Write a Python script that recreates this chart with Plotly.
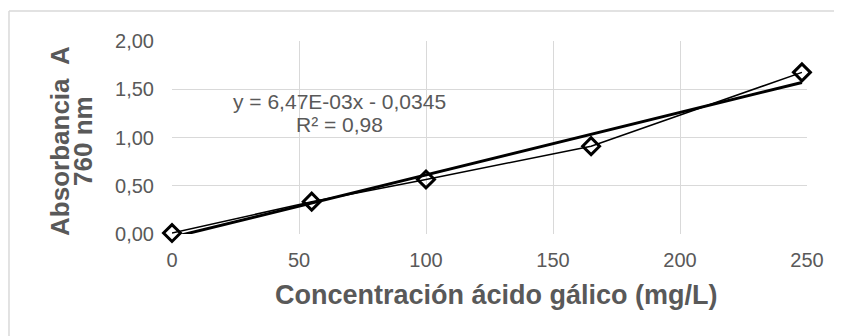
import numpy as np
import plotly.graph_objects as go

# Data
concentracion = [0, 55, 100, 165, 248]
absorbancia = [0.01, 0.335, 0.565, 0.91, 1.675]
slope = 6.47e-03
intercept = -0.0345
x_ticks = [0, 50, 100, 150, 200, 250]
y_ticks = [0.0, 0.5, 1.0, 1.5, 2.0]
y_tick_labels = ["0,00", "0,50", "1,00", "1,50", "2,00"]
eq_line1 = "y = 6,47E-03x - 0,0345"
eq_line2 = "R² = 0,98"
x_title = "Concentración ácido gálico (mg/L)"
y_title_lines = ["Absorbancia  A", "760 nm"]

grey = "#595959"
grid = "#d9d9d9"
font = "Liberation Sans, Arial, sans-serif"

trend_x = np.array([min(concentracion), max(concentracion)])
trend_y = slope * trend_x + intercept

fig = go.Figure()
fig.add_trace(go.Scatter(
    x=list(trend_x), y=list(trend_y), mode="lines",
    line=dict(color="black", width=3), hoverinfo="skip", showlegend=False,
))
fig.add_trace(go.Scatter(
    x=concentracion, y=absorbancia, mode="lines+markers",
    line=dict(color="black", width=1.5),
    marker=dict(symbol="diamond-open", size=13, color="black", line=dict(width=3, color="black")),
    showlegend=False, cliponaxis=False,
))

# trendline equation
fig.add_annotation(x=66, y=1.371, xref="x", yref="y", text=eq_line1, showarrow=False,
                   font=dict(family=font, size=21, color=grey), yanchor="middle")
fig.add_annotation(x=66, y=1.13, xref="x", yref="y", text=eq_line2, showarrow=False,
                   font=dict(family=font, size=21, color=grey), yanchor="middle")

# axis titles
fig.add_annotation(x=0.511, y=-0.316, xref="paper", yref="paper", text="<b>" + x_title + "</b>",
                   showarrow=False, font=dict(family=font, size=27, color=grey),
                   xanchor="center", yanchor="middle")
for xp, line in zip([-0.1764, -0.1402], y_title_lines):
    fig.add_annotation(x=xp, y=0.482, xref="paper", yref="paper", text="<b>" + line + "</b>",
                       showarrow=False, textangle=-90, font=dict(family=font, size=26, color=grey),
                       xanchor="center", yanchor="middle")

# outer chart border (only top and left edges visible)
fig.add_shape(type="line", xref="paper", yref="paper",
              x0=-0.2567, x1=1.2, y0=1.1554, y1=1.1554,
              line=dict(color=grid, width=1.5), layer="below")
fig.add_shape(type="line", xref="paper", yref="paper",
              x0=-0.2567, x1=-0.2567, y0=-0.6, y1=1.1554,
              line=dict(color=grid, width=1.5), layer="below")

fig.update_layout(
    width=842, height=336,
    margin=dict(l=164, r=43, t=33, b=110),
    paper_bgcolor="white", plot_bgcolor="white",
    font=dict(family=font, color=grey),
    xaxis=dict(
        range=[0, 250], tickvals=x_ticks, ticktext=[str(v) for v in x_ticks],
        showgrid=True, gridcolor=grid, gridwidth=1, zeroline=False,
        showline=False, ticks="", tickfont=dict(family=font, size=20, color=grey),
        ticklabelstandoff=12,
    ),
    yaxis=dict(
        range=[0, 2.0], tickvals=y_ticks, ticktext=y_tick_labels,
        showgrid=True, gridcolor=grid, gridwidth=1, zeroline=False,
        showline=False, ticks="", tickfont=dict(family=font, size=20, color=grey),
        ticklabelstandoff=17,
    ),
)

fig.write_html("out.html")
